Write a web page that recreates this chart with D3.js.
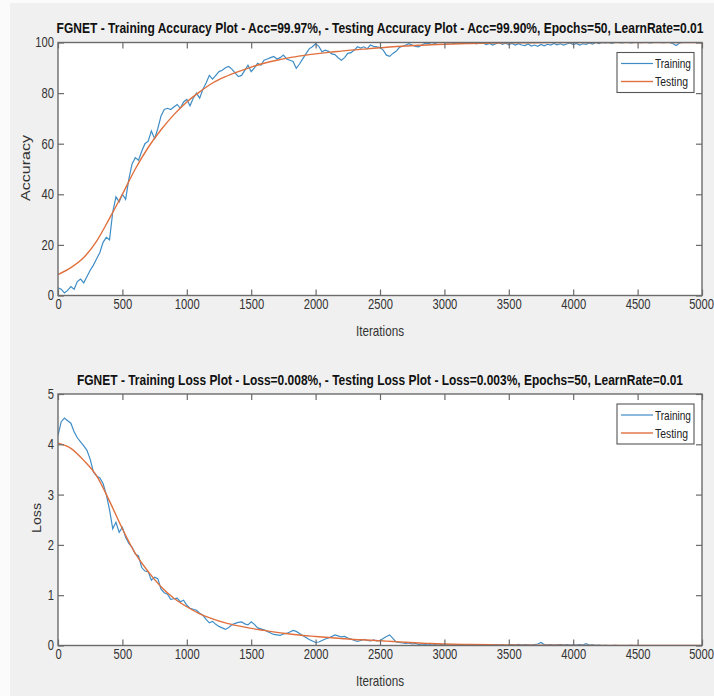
<!DOCTYPE html>
<html lang="en">
<head>
<meta charset="UTF-8" />
<title>FGNET training plots</title>
<script src="https://cdn.jsdelivr.net/npm/d3@7"></script>
<style>
  html, body { margin: 0; padding: 0; background: #f0f0f0; }
  svg { display: block; font-family: "Liberation Sans", Arial, sans-serif; }
</style>
</head>
<body>
<div id="chart"></div>
<script>
// ---- data ----
const trainIter = d3.range(0, 5001, 25);

const trainAcc = [
  3, 2.5, 1, 2, 3.5, 2.5, 5.5, 6.5,
  5, 7.5, 10, 12, 14.5, 17, 21, 23,
  22, 33, 39, 37, 40, 38, 46, 52,
  54.5, 53.5, 57, 60, 61, 65, 62, 66,
  71, 73.5, 74, 73.5, 74.5, 75.5, 74, 76.5,
  77.5, 75, 78, 80, 78, 81.5, 84, 87,
  85.5, 87, 88.5, 89, 90, 90.5, 89.5, 88,
  86.5, 87, 89, 91, 88.5, 90, 91.8, 91,
  93, 93.5, 94, 94.5, 93.5, 94, 95, 93.5,
  93, 92.5, 89.8, 91.5, 93.5, 95.5, 97.5, 98.3,
  99.5, 98.5, 96.3, 97, 96.5, 95.5, 95.2, 94,
  93, 94, 95.7, 96, 97, 98.3, 97.8, 98.3,
  97.5, 99, 98.5, 98.3, 98, 97, 95, 94.5,
  95.7, 96.5, 98, 98.5, 99, 99.5, 99, 98.5,
  98.3, 99, 99.7, 99.5, 100, 99.7, 100, 100,
  100, 99.8, 100, 99.6, 100, 99.8, 100, 100,
  99.7, 100, 99.5, 100, 99.8, 99.2, 99.6, 99,
  99.5, 100, 99.3, 99.7, 99.2, 99.6, 99, 99.5,
  99, 98.8, 99.4, 98.6, 99, 98.5, 99.2, 98.7,
  99.3, 99, 99.6, 99.1, 99.5, 99, 99.4, 99.8,
  99.2, 99.6, 99, 99.5, 99.3, 99.8, 99.4, 100,
  99.6, 100, 99.8, 100, 99.7, 100, 100, 99.8,
  100, 100, 99.8, 100, 100, 99.9, 100, 100,
  99.8, 100, 100, 100, 99.9, 100, 100, 99.5,
  98.8, 99.8, 100, 100, 100, 100, 100, 100,
  100
];

const trainLoss = [
  4.18, 4.45, 4.52, 4.47, 4.42, 4.25, 4.13, 4.05,
  3.97, 3.88, 3.7, 3.45, 3.37, 3.33, 3.22, 3.0,
  2.7, 2.32, 2.45, 2.25, 2.35, 2.15, 2.03, 1.95,
  1.82, 1.78, 1.55, 1.48, 1.47, 1.3, 1.36, 1.33,
  1.12, 1.05, 1.02, 0.92, 0.93, 0.94, 0.87, 0.9,
  0.8, 0.74, 0.72, 0.7, 0.64, 0.6, 0.52, 0.45,
  0.48, 0.42, 0.38, 0.35, 0.32, 0.36, 0.41, 0.44,
  0.46, 0.47, 0.43, 0.41, 0.47, 0.42, 0.35, 0.33,
  0.31, 0.28, 0.25, 0.22, 0.21, 0.2, 0.23, 0.24,
  0.27, 0.3, 0.28, 0.24, 0.2, 0.16, 0.12, 0.09,
  0.06, 0.07, 0.1, 0.13, 0.15, 0.18, 0.21, 0.19,
  0.17, 0.18, 0.15, 0.13, 0.1, 0.08, 0.1, 0.12,
  0.1, 0.09, 0.11, 0.09, 0.1, 0.14, 0.18, 0.21,
  0.14, 0.07, 0.06, 0.05, 0.04, 0.05, 0.03, 0.04,
  0.02, 0.03, 0.02, 0.03, 0.01, 0.02, 0.01, 0.02,
  0.01, 0.01, 0, 0.01, 0, 0.01, 0.005, 0,
  0.01, 0, 0.005, 0, 0.01, 0, 0.015, 0.01,
  0.02, 0.01, 0.02, 0.005, 0.01, 0.02, 0.01, 0.025,
  0.01, 0.02, 0.015, 0.01, 0.02, 0.03, 0.06, 0.02,
  0.01, 0.02, 0.01, 0.015, 0.02, 0.01, 0.02, 0.01,
  0.015, 0.01, 0.02, 0.01, 0.035, 0.01, 0.015, 0.005,
  0.01, 0, 0.005, 0, 0, 0.005, 0, 0,
  0, 0, 0.005, 0, 0, 0, 0, 0,
  0, 0, 0, 0, 0, 0, 0, 0,
  0, 0, 0, 0, 0, 0, 0, 0,
  0
];

const testIter = [0, 100, 200, 300, 400, 500, 600, 700, 800, 900, 1000, 1100, 1200, 1300,
  1400, 1500, 1600, 1700, 1800, 1900, 2000, 2100, 2200, 2300, 2400, 2500, 2600, 2700,
  2800, 2900, 3000, 3200, 3400, 3600, 3800, 4000, 4500, 5000];
const testAcc = [8.3, 11, 15, 21.5, 30.5, 40, 50, 58.5, 65.5, 71.5, 76.5, 80.5, 84, 86.5,
  88.5, 90.3, 91.8, 93, 94, 94.8, 95.5, 96.1, 96.6, 97.1, 97.5, 97.9, 98.3, 98.6,
  98.9, 99.1, 99.3, 99.6, 99.8, 99.9, 99.95, 100, 100, 100];
const testLoss = [4.02, 3.92, 3.68, 3.37, 2.87, 2.32, 1.83, 1.47, 1.17, 0.94, 0.77, 0.63, 0.53, 0.45,
  0.39, 0.34, 0.30, 0.26, 0.23, 0.2, 0.18, 0.16, 0.14, 0.12, 0.11, 0.095, 0.08, 0.065,
  0.05, 0.04, 0.03, 0.02, 0.012, 0.008, 0.005, 0.003, 0.001, 0];

const xTicks = [0, 500, 1000, 1500, 2000, 2500, 3000, 3500, 4000, 4500, 5000];
const accTicks = [0, 20, 40, 60, 80, 100];
const lossTicks = [0, 1, 2, 3, 4, 5];
const seriesNames = ["Training", "Testing"];

// ---- drawing ----
const W = 714, H = 696;
const BLUE = "#3f8dc6", ORANGE = "#e0703e", AX = "#6b6b6b";
const SQ = 0.8; // horizontal squeeze of the source picture's text

const svg = d3.select("#chart").append("svg")
  .attr("width", W).attr("height", H);

svg.append("rect").attr("width", W).attr("height", H).attr("fill", "#f0f0f0");
svg.append("rect").attr("width", 10).attr("height", H).attr("fill", "#fbfbfb");
svg.append("rect").attr("width", W).attr("height", 3).attr("fill", "#fbfbfb");

// squeezed label: measured, then scaled to the width seen in the picture
function label(g, o) {
  const t = g.append("text")
    .attr("text-anchor", o.anchor || "middle").attr("dy", o.dy || 0)
    .style("font-size", o.size + "px").style("font-weight", o.weight || "normal")
    .attr("fill", o.fill || "#333").text(o.text);
  const s = o.width / t.node().getComputedTextLength();
  t.attr("transform", o.rotate
    ? `translate(${o.x},${o.y}) scale(${SQ},${s}) rotate(-90)`
    : `translate(${o.x},${o.y}) scale(${s},1)`);
  return t;
}

function panel(opt) {
  const x = d3.scaleLinear().domain([0, 5000]).range([58, 702]);
  const y = d3.scaleLinear().domain(opt.yDomain).range([opt.bottom, opt.top]);
  const g = svg.append("g");
  const id = "clip" + opt.key;

  svg.append("clipPath").attr("id", id).append("rect")
    .attr("x", 58).attr("y", opt.top).attr("width", 644).attr("height", opt.bottom - opt.top);

  g.append("rect")
    .attr("x", 58).attr("y", opt.top).attr("width", 644).attr("height", opt.bottom - opt.top)
    .attr("fill", "#fff");

  // series
  const lines = g.append("g").attr("clip-path", `url(#${id})`).attr("fill", "none");
  lines.append("path")
    .datum(trainIter.map((d, i) => [d, opt.train[i]]))
    .attr("d", d3.line().x(d => x(d[0])).y(d => y(d[1])))
    .attr("stroke", BLUE).attr("stroke-width", 1.2);
  lines.append("path")
    .datum(testIter.map((d, i) => [d, opt.test[i]]))
    .attr("d", d3.line().x(d => x(d[0])).y(d => y(d[1])).curve(d3.curveMonotoneX))
    .attr("stroke", ORANGE).attr("stroke-width", 1.4);

  // axes with inward ticks on all four sides
  const styleAxis = sel => {
    sel.select(".domain").remove();
    sel.selectAll("line").attr("stroke", AX).attr("stroke-width", 1.2);
    sel.selectAll("text").attr("fill", "#333").style("font-size", "14px");
  };
  const fmt = d3.format("d");
  g.append("g").attr("transform", `translate(0,${opt.bottom})`)
    .call(d3.axisBottom(x).tickValues(xTicks).tickFormat(fmt).tickSizeInner(-6).tickSizeOuter(0).tickPadding(4))
    .call(styleAxis)
    .selectAll("text")
      .attr("text-anchor", d => d === 5000 ? "end" : "middle")
      .attr("x", d => d === 5000 ? 11.5 / SQ : 0)
      .attr("transform", `scale(${SQ},1)`);
  g.append("g").attr("transform", `translate(0,${opt.top})`)
    .call(d3.axisTop(x).tickValues(xTicks).tickSizeInner(-6).tickSizeOuter(0).tickFormat(""))
    .call(styleAxis);
  g.append("g").attr("transform", "translate(58,0)")
    .call(d3.axisLeft(y).tickValues(opt.ticks).tickFormat(fmt).tickSizeInner(-6).tickSizeOuter(0).tickPadding(5))
    .call(styleAxis)
    .selectAll("text").attr("transform", `scale(${SQ},1)`);
  g.append("g").attr("transform", "translate(702,0)")
    .call(d3.axisRight(y).tickValues(opt.ticks).tickSizeInner(-6).tickSizeOuter(0).tickFormat(""))
    .call(styleAxis);

  g.append("rect")
    .attr("x", 58).attr("y", opt.top).attr("width", 644).attr("height", opt.bottom - opt.top)
    .attr("fill", "none").attr("stroke", AX).attr("stroke-width", 1.4);

  // title and axis labels
  label(g, { x: 380, y: opt.top - 9.5, text: opt.title, size: 14, weight: "bold",
    fill: "#111", width: opt.titleLen });
  label(g, { x: 380, y: opt.bottom + 40, text: "Iterations", size: 14, width: 48 });
  label(g, { x: opt.yLabelX, y: opt.yLabelY, text: opt.yLabel, size: 15, dy: "0.35em",
    width: opt.yLabelLen, rotate: true });

  // legend
  const lg = g.append("g").attr("transform", `translate(617,${opt.top + 10})`);
  lg.append("rect").attr("width", 77).attr("height", 40)
    .attr("fill", "#fff").attr("stroke", "#555").attr("stroke-width", 1.1);
  seriesNames.forEach((name, i) => {
    const yy = 11 + i * 18;
    lg.append("line").attr("x1", 4).attr("x2", 36).attr("y1", yy).attr("y2", yy)
      .attr("stroke", i === 0 ? BLUE : ORANGE).attr("stroke-width", i === 0 ? 1.2 : 1.4);
    label(lg, { x: 38, y: yy, text: name, size: 13, dy: "0.35em", anchor: "start",
      fill: "#222", width: i === 0 ? 36 : 33 });
  });
}

panel({
  key: "acc", top: 42.5, bottom: 295.5, yDomain: [0, 100], ticks: accTicks,
  train: trainAcc, test: testAcc,
  title: "FGNET - Training Accuracy Plot - Acc=99.97%, - Testing Accuracy Plot - Acc=99.90%, Epochs=50, LearnRate=0.01",
  titleLen: 647, yLabel: "Accuracy", yLabelX: 26, yLabelY: 168, yLabelLen: 66
});

panel({
  key: "loss", top: 394, bottom: 645.5, yDomain: [0, 5], ticks: lossTicks,
  train: trainLoss, test: testLoss,
  title: "FGNET - Training Loss Plot - Loss=0.008%, - Testing Loss Plot - Loss=0.003%, Epochs=50, LearnRate=0.01",
  titleLen: 607, yLabel: "Loss", yLabelX: 37, yLabelY: 518, yLabelLen: 30
});
</script>
</body>
</html>
